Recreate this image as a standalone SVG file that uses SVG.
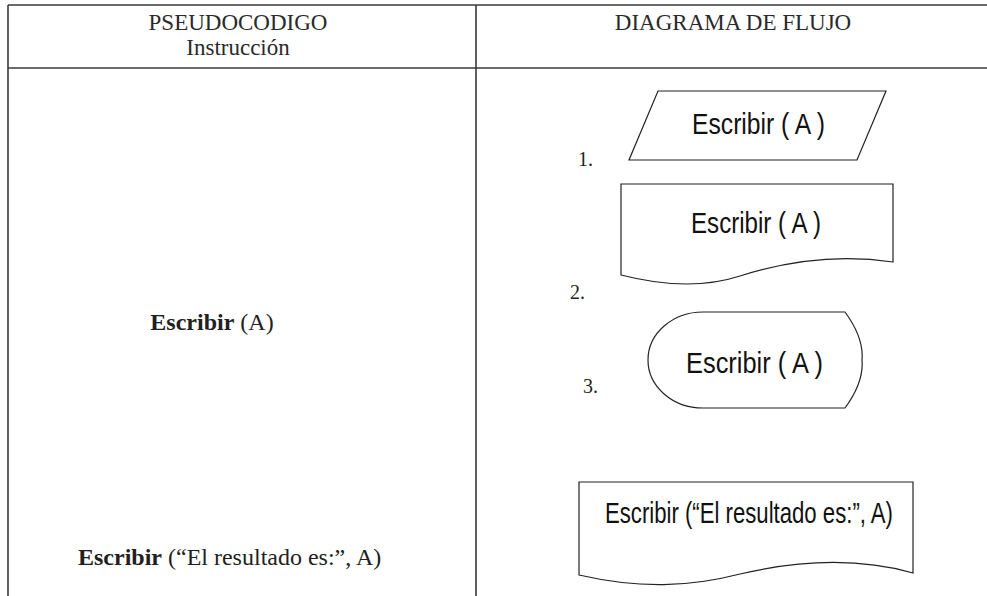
<svg xmlns="http://www.w3.org/2000/svg" width="987" height="596" viewBox="0 0 987 596">
<style>
.grid{stroke:#3a3a3a;stroke-width:1.6;fill:none}
.shape{stroke:#222;stroke-width:1.2;fill:#fff}
.serif{font-family:"Liberation Serif","Times New Roman",serif;fill:#231f20;font-size:24px}
.head{font-family:"Liberation Serif","Times New Roman",serif;fill:#2a2a2a;font-size:23px}
.sans{font-family:"Liberation Sans",Arial,sans-serif;fill:#111;font-size:29px}
.num{font-family:"Liberation Serif","Times New Roman",serif;fill:#231f20;font-size:20px}
</style>
<rect width="987" height="596" fill="#fff"/>
<g id="table">
<line class="grid" x1="8" y1="5" x2="987" y2="5"/>
<line class="grid" x1="8" y1="68" x2="987" y2="68"/>
<line class="grid" x1="8" y1="5" x2="8" y2="596"/>
<line class="grid" x1="476" y1="5" x2="476" y2="596"/>
<text class="head" x="238" y="30" text-anchor="middle">PSEUDOCODIGO</text>
<text class="head" x="238" y="55" text-anchor="middle">Instrucción</text>
<text class="head" x="733" y="30" text-anchor="middle">DIAGRAMA DE FLUJO</text>
<text class="serif" x="212" y="330" text-anchor="middle"><tspan font-weight="bold">Escribir</tspan> (A)</text>
<text class="serif" x="78" y="565"><tspan font-weight="bold">Escribir</tspan> (“El resultado es:”, A)</text>
</g>
<g id="node1">
<polygon class="shape" points="658,91 886,91 857,160 629,160"/>
<text class="sans" x="692" y="134" textLength="133" lengthAdjust="spacingAndGlyphs">Escribir ( A )</text>
<text class="num" x="578" y="166">1.</text>
</g>
<g id="node2">
<path class="shape" d="M621,184 H893 V262 C840,254 790,260 740,276 C700,289 660,285 621,275 Z"/>
<text class="sans" x="691" y="233" textLength="130" lengthAdjust="spacingAndGlyphs">Escribir ( A )</text>
<text class="num" x="570" y="299">2.</text>
</g>
<g id="node3">
<path class="shape" d="M703,312 H845 Q864,338 862,360 Q864,382 845,408 H703 A55,48 0 0 1 703,312 Z"/>
<text class="sans" x="686" y="373" textLength="137" lengthAdjust="spacingAndGlyphs">Escribir ( A )</text>
<text class="num" x="583" y="393">3.</text>
</g>
<g id="node4">
<path class="shape" d="M579,482 H913 V573 C860,558 800,560 740,574 C690,587 640,589 579,575 Z"/>
<text class="sans" x="605" y="523" textLength="288" lengthAdjust="spacingAndGlyphs">Escribir (“El resultado es:”, A)</text>
</g>
<g id="connectors"/>
</svg>
